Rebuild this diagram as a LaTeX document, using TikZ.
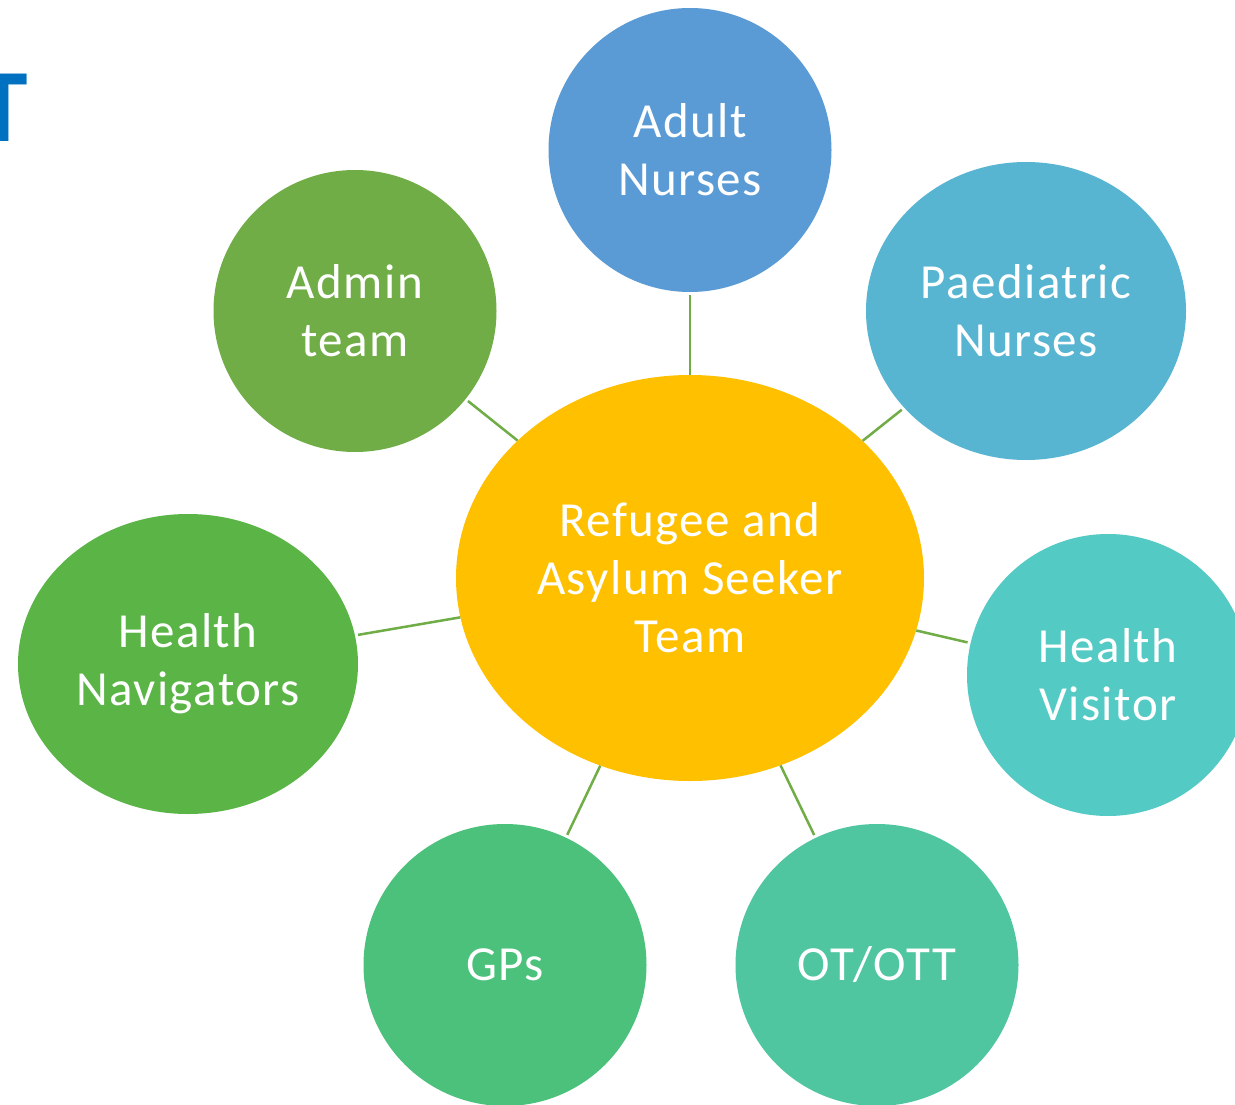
\documentclass[tikz,border=0pt]{standalone}
\usepackage{fontspec}
\setmainfont{Carlito}
\newfontfamily\bubblefont[LetterSpace=3]{Carlito}
\usetikzlibrary{shapes.geometric}
\definecolor{cAdult}{HTML}{5B9BD5}
\definecolor{cPaed}{HTML}{57B5D1}
\definecolor{cHV}{HTML}{53CAC4}
\definecolor{cOT}{HTML}{4FC6A0}
\definecolor{cGP}{HTML}{4BC17B}
\definecolor{cHN}{HTML}{5AB446}
\definecolor{cAdmin}{HTML}{70AD47}
\definecolor{cCenter}{HTML}{FFC000}
\definecolor{cLine}{HTML}{70AD47}
\definecolor{cTitle}{HTML}{0070C0}
\tikzset{
  bubble/.style={ellipse, inner sep=0pt, text=white, align=center,
    font=\bubblefont\fontsize{49}{58}\selectfont},
  link/.style={draw=cLine, line width=2.5pt, shorten <=3pt}
}
\begin{document}
\begin{tikzpicture}[x=1pt,y=-1pt]
\clip (0,0) rectangle (1235,1105);
\fill[white] (0,0) rectangle (1235,1105);
\node[anchor=base, text=cTitle, inner sep=0pt, font=\bfseries\fontsize{104}{104}\selectfont] (title) at (2,142) {T};
\node[bubble, fill=cCenter, minimum width=468pt, minimum height=406pt] (center) at (690,578) {Refugee and\\Asylum Seeker\\Team};
\node[bubble, fill=cAdult, minimum width=283pt, minimum height=284pt] (adult) at (690,150) {Adult\\Nurses};
\node[bubble, fill=cPaed, minimum width=320pt, minimum height=298pt] (paed) at (1026,311) {Paediatric\\Nurses};
\node[bubble, fill=cHV, minimum width=282pt, minimum height=282pt] (hv) at (1108,675) {Health\\Visitor};
\node[bubble, fill=cOT, minimum width=283pt, minimum height=282pt] (ot) at (877,965) {OT/OTT};
\node[bubble, fill=cGP, minimum width=283pt, minimum height=282pt] (gp) at (505,965) {GPs};
\node[bubble, fill=cHN, minimum width=340pt, minimum height=300pt] (hn) at (188,664) {Health\\Navigators};
\node[bubble, fill=cAdmin, minimum width=283pt, minimum height=282pt] (admin) at (355,311) {Admin\\team};
\foreach \n in {adult,paed,hv,ot,gp,hn,admin}
  \draw[link] (\n) -- (center);
\end{tikzpicture}
\end{document}
